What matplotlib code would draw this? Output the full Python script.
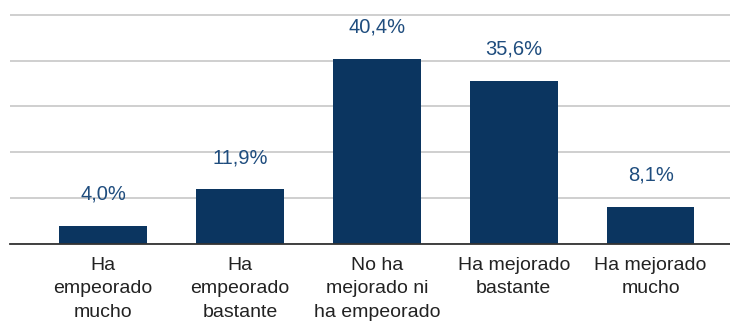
import matplotlib.pyplot as plt

categories = ["Ha\nempeorado\nmucho", "Ha\nempeorado\nbastante", "No ha\nmejorado ni\nha empeorado",
              "Ha mejorado\nbastante", "Ha mejorado\nmucho"]
values = [4.0, 11.9, 40.4, 35.6, 8.1]
value_labels = ["4,0%", "11,9%", "40,4%", "35,6%", "8,1%"]
grid_ticks = [0, 10, 20, 30, 40, 50]

plt.rcParams['font.family'] = ['Liberation Sans', 'DejaVu Sans']

fig = plt.figure(figsize=(7.3, 3.26), dpi=100)
ax = fig.add_axes([0.0137, 0.2515, 0.9863, 0.7485])

x = range(len(values))
bars = ax.bar(x, values, width=0.64, color="#0b3560", zorder=3)

for xi, v, lab in zip(x, values, value_labels):
    ax.annotate(lab, (xi, v), xytext=(0, 19), textcoords="offset points",
                ha="center", va="baseline", fontsize=14.5, color="#1f4d7e",
                zorder=4, annotation_clip=False)

ax.set_xlim(-0.68, 4.58)
ax.set_ylim(0, 53.2)
ax.set_yticks(grid_ticks)
ax.yaxis.grid(True, color="#cccccc", linewidth=1.3, zorder=0)
ax.tick_params(axis="y", left=False, labelleft=False)
ax.set_xticks(list(x))
ax.set_xticklabels(categories, fontsize=14, color="#222222", linespacing=1.5)
ax.tick_params(axis="x", length=0, pad=9)

for side in ["top", "right", "left"]:
    ax.spines[side].set_visible(False)
ax.spines["bottom"].set_color("#333333")
ax.spines["bottom"].set_linewidth(1.3)
ax.spines["bottom"].set_zorder(5)

fig.savefig("out.png", dpi=100)
